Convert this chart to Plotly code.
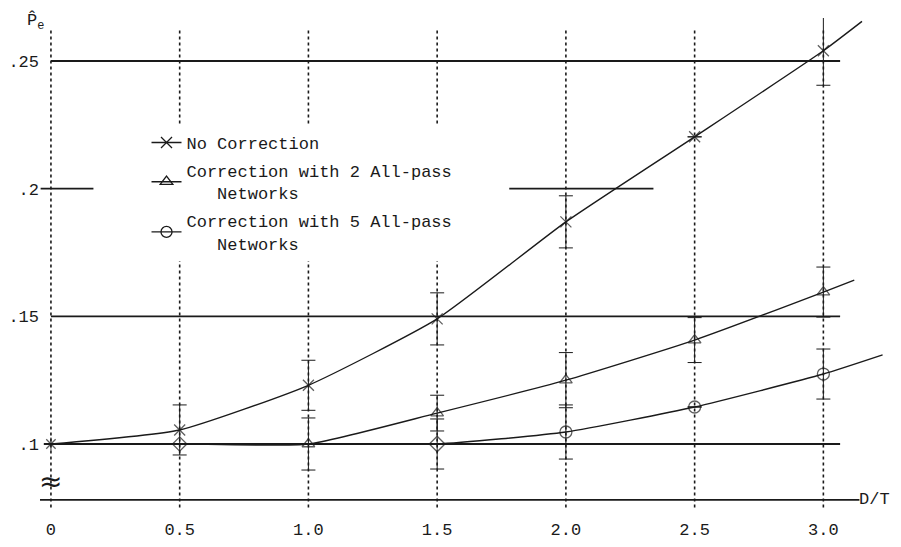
import plotly.graph_objects as go

# ---- data ----
d_over_t = [0, 0.5, 1.0, 1.5, 2.0, 2.5, 3.0]
x_ticktext = ["0", "0.5", "1.0", "1.5", "2.0", "2.5", "3.0"]
y_tickvals = [0.1, 0.15, 0.2, 0.25]
y_ticktext = [".1", ".15", ".2", ".25"]

no_corr = [0.100, 0.1055, 0.123, 0.149, 0.187, 0.2203, 0.254]
no_corr_err = [None, 0.0098, 0.0098, 0.0102, 0.0102, None, 0.0135]
no_corr_tail = (3.15, 0.2655)

two_ap = [0.100, 0.100, 0.100, 0.1121, 0.125, 0.1407, 0.1595]
two_ap_err = [None, None, None, 0.007, 0.0108, 0.0088, 0.0098]
two_ap_tail = (3.12, 0.1642)

five_ap = [0.100, 0.100, 0.100, 0.100, 0.1047, 0.1145, 0.1274]
five_ap_err = [None, None, 0.0102, 0.0098, 0.0106, None, 0.0098]
five_ap_tail = (3.23, 0.1349)

names = ["No Correction",
         "Correction with 2 All-pass<br>\u00a0\u00a0\u00a0Networks",
         "Correction with 5 All-pass<br>\u00a0\u00a0\u00a0Networks"]
legend_symbols = ["x-thin-open", "triangle-up-open", "circle-open"]

axis_floor = 0.0781  # broken-axis baseline

FONT = "Liberation Mono"
INK = "#1a1a1a"

fig = go.Figure()


def add_series(ys, errs, tail, symbols, sizes):
    # smooth curve (runs a little past the last measured point)
    fig.add_trace(go.Scatter(
        x=list(d_over_t) + [tail[0]], y=list(ys) + [tail[1]],
        mode="lines", showlegend=False, hoverinfo="skip",
        line=dict(color=INK, width=1.4, shape="spline", smoothing=0.5),
    ))
    # measured points with confidence ticks
    ee = [float("nan") if e is None else e for e in errs]
    fig.add_trace(go.Scatter(
        x=d_over_t, y=ys, mode="markers", showlegend=False,
        marker=dict(symbol=symbols, size=sizes, color=INK,
                    line=dict(color=INK, width=1.3)),
        error_y=dict(type="data", array=ee, symmetric=True, color=INK,
                     thickness=1.0, width=7),
    ))


add_series(no_corr, no_corr_err, no_corr_tail,
           ["asterisk-open"] + ["x-thin-open"] * 6, [11] * 7)
add_series(two_ap, two_ap_err, two_ap_tail,
           ["circle", "diamond-open"] + ["triangle-up-open"] * 5, [0] + [11] * 6)
add_series(five_ap, five_ap_err, five_ap_tail,
           ["circle"] * 3 + ["diamond-open"] + ["circle-open"] * 3, [0, 0, 0] + [12] * 4)

# legend entries
for i, (nm, sym) in enumerate(zip(names, legend_symbols)):
    fig.add_trace(go.Scatter(
        x=[None], y=[None], mode="lines+markers", name=nm, legendgroup=str(i),
        line=dict(color=INK, width=1.4),
        marker=dict(symbol=sym, size=11, color=INK, line=dict(color=INK, width=1.3)),
    ))

# ---- grid (hand-ruled look) ----
x_right = 3.065
for v in d_over_t:
    fig.add_shape(type="line", x0=v, x1=v, y0=axis_floor - 0.003, y1=0.262,
                  xref="x", yref="y", layer="below",
                  line=dict(color=INK, width=1.6, dash="dot"))
for v in [0.1, 0.15, 0.25]:
    fig.add_shape(type="line", x0=0, x1=x_right, y0=v, y1=v, xref="x", yref="y",
                  layer="below", line=dict(color=INK, width=1.8))
# partial .2 rulings
fig.add_shape(type="line", x0=-0.04, x1=0.165, y0=0.2, y1=0.2, xref="x", yref="y",
              layer="below", line=dict(color=INK, width=1.6))
fig.add_shape(type="line", x0=1.78, x1=2.34, y0=0.2, y1=0.2, xref="x", yref="y",
              layer="below", line=dict(color=INK, width=1.6))
# baseline
fig.add_shape(type="line", x0=-0.046, x1=3.14, y0=axis_floor, y1=axis_floor,
              xref="x", yref="y", layer="below", line=dict(color=INK, width=1.8))

# annotations: axis titles and break mark
fig.add_annotation(x=3.2, y=axis_floor, xref="x", yref="y", text="D/T", showarrow=False,
                   font=dict(family=FONT, size=17, color=INK), xanchor="center")
fig.add_annotation(x=-0.018, y=1.02, xref="paper", yref="paper",
                   text="P\u0302<sub>e</sub>",
                   showarrow=False, font=dict(family=FONT, size=17, color=INK),
                   xanchor="left", yanchor="top")
fig.add_annotation(x=0, y=0.0855, xref="x", yref="y", text="\u2248", showarrow=False,
                   font=dict(family="DejaVu Sans", size=28, color=INK), xanchor="center")

fig.update_layout(
    width=893, height=539,
    margin=dict(l=28, r=0, t=10, b=30),
    paper_bgcolor="white", plot_bgcolor="white",
    font=dict(family=FONT, color=INK, size=17),
    showlegend=True,
    legend=dict(x=0.1237, y=0.7856, xanchor="left", yanchor="top", bgcolor="white",
                traceorder="grouped", tracegroupgap=3,
                font=dict(family=FONT, size=17, color=INK)),
    xaxis=dict(range=[-0.0425, 3.3015], tickvals=d_over_t, ticktext=x_ticktext,
               showgrid=False, zeroline=False, showline=False, ticks="",
               tickfont=dict(family=FONT, size=17, color=INK)),
    yaxis=dict(range=[0.07141, 0.26684], tickvals=y_tickvals, ticktext=y_ticktext,
               showgrid=False, zeroline=False, showline=False, ticks="",
               tickfont=dict(family=FONT, size=17, color=INK)),
)

fig.write_html("out.html")
